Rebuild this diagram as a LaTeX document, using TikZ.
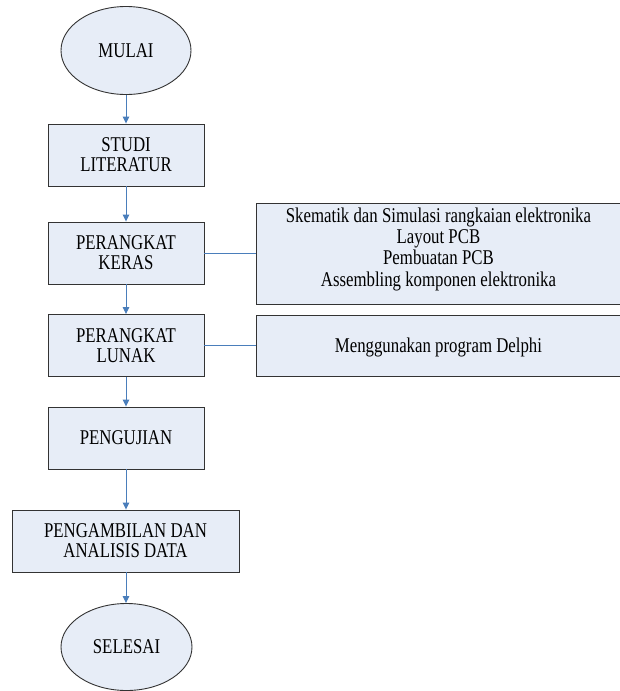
\documentclass[tikz,border=0pt]{standalone}
\usepackage{fontspec}
\usepackage{graphicx}
\setmainfont{Liberation Serif}
\usetikzlibrary{shapes.geometric,arrows.meta}
\definecolor{boxfill}{HTML}{E7EDF7}
\definecolor{boxline}{HTML}{333333}
\definecolor{linkblue}{HTML}{4A7EBB}
\newcommand{\stxt}[1]{\raisebox{-2.7pt}[\height][\depth]{\scalebox{1}[1.25]{\begin{tabular}{@{}c@{}}#1\end{tabular}}}}
\tikzset{
  flowbox/.style={draw=boxline, fill=boxfill, line width=0.9pt, align=center, inner sep=0pt, font=\fontsize{16.8}{16}\selectfont},
  flowoval/.style={ellipse, draw=boxline, fill=boxfill, line width=0.9pt, inner sep=0pt, font=\fontsize{16.8}{16}\selectfont},
  flowarrow/.style={draw=linkblue, line width=0.9pt, -{Triangle[width=6.5pt,length=7pt]}},
  flowlink/.style={draw=linkblue, line width=0.9pt},
}
\begin{document}
\begin{tikzpicture}[x=1pt,y=-1pt]
\useasboundingbox (0,0) rectangle (619,691);
\node[flowoval, minimum width=130pt, minimum height=88pt] (mulai) at (126,50.5) {\stxt{MULAI}};
\node[flowbox, minimum width=156pt, minimum height=62pt] (studi) at (126,155) {\stxt{STUDI\\LITERATUR}};
\node[flowbox, minimum width=156pt, minimum height=62pt] (keras) at (126,253) {\stxt{PERANGKAT\\KERAS}};
\node[flowbox, minimum width=156pt, minimum height=62pt] (lunak) at (126,345.5) {\stxt{PERANGKAT\\LUNAK}};
\node[flowbox, minimum width=156pt, minimum height=62pt] (uji) at (126,438) {\stxt{PENGUJIAN}};
\node[flowbox, minimum width=227pt, minimum height=62pt] (ambil) at (125.5,541) {\stxt{PENGAMBILAN DAN\\ANALISIS DATA}};
\node[flowoval, minimum width=131pt, minimum height=87pt] (selesai) at (126.5,647) {\stxt{SELESAI}};
\node[flowbox, minimum width=364pt, minimum height=101pt, anchor=north west, font=\fontsize{16.8}{17}\selectfont] (hw) at (256,202.5) {\raisebox{6.2pt}[\height][\depth]{\stxt{Skematik dan Simulasi rangkaian elektronika\\Layout PCB\\Pembuatan PCB\\Assembling komponen elektronika}}};
\node[flowbox, minimum width=364pt, minimum height=61pt, anchor=north west] (sw) at (256,315) {\stxt{Menggunakan program Delphi}};
\draw[flowarrow] (mulai.south) -- (mulai.south |- studi.north);
\draw[flowarrow] (studi.south) -- (studi.south |- keras.north);
\draw[flowarrow] (keras.south) -- (keras.south |- lunak.north);
\draw[flowarrow] (lunak.south) -- (lunak.south |- uji.north);
\draw[flowarrow] (uji.south) -- (uji.south |- ambil.north);
\draw[flowarrow] (uji.south |- ambil.south) -- (uji.south |- selesai.north);
\draw[flowlink] (keras.east) -- (keras.east -| hw.west);
\draw[flowlink] (lunak.east) -- (lunak.east -| sw.west);
\end{tikzpicture}
\end{document}
